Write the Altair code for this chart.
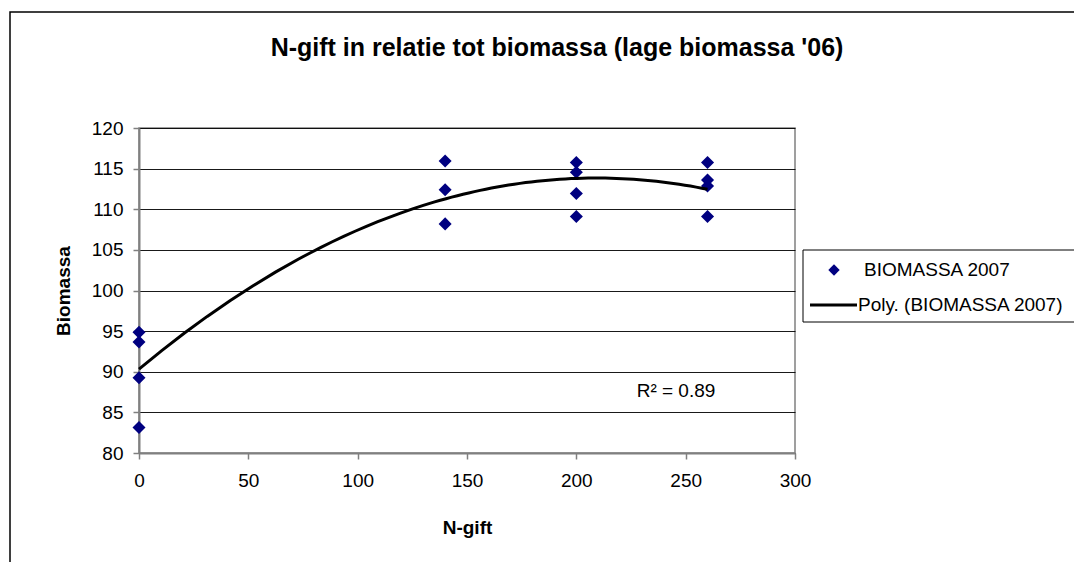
import altair as alt
import pandas as pd

# ---- data ----
n_gift = [0, 0, 0, 0, 140, 140, 140, 200, 200, 200, 200, 260, 260, 260, 260]
biomassa = [94.85, 93.65, 89.25, 83.15, 115.95, 112.4, 108.2,
            115.75, 114.55, 111.95, 109.1, 115.75, 113.6, 112.85, 109.1]
series_names = ["BIOMASSA 2007", "Poly. (BIOMASSA 2007)"]
x_ticks = [0, 50, 100, 150, 200, 250, 300]
y_ticks = [80, 85, 90, 95, 100, 105, 110, 115, 120]
title_text = "N-gift in relatie tot biomassa (lage biomassa '06)"
x_title = "N-gift"
y_title = "Biomassa"
r2_text = "R\u00b2 = 0.89"

FONT = "Liberation Sans"
W, H = 656, 325

df = pd.DataFrame({"x": n_gift, "y": biomassa})

xs = alt.Scale(domain=[0, 300], nice=False, zero=False)
ys = alt.Scale(domain=[80, 120], nice=False, zero=False)

x_axis = alt.Axis(values=x_ticks, title=x_title, grid=False, format="d",
                  labelFontSize=19, labelPadding=12, tickSize=6,
                  labelFlush=False, labelOverlap=False,
                  titleFontSize=19, titleFontWeight="bold",
                  titleX=W / 2, titleY=74, titleBaseline="middle")
y_axis = alt.Axis(values=y_ticks, title=y_title, grid=True, format="d",
                  labelFontSize=19, labelPadding=10, tickSize=6,
                  labelFlush=False, labelOverlap=False,
                  titleFontSize=19, titleFontWeight="bold",
                  titleX=-76, titleY=H / 2, titleBaseline="middle",
                  titleAngle=-90, titleAlign="center")

base = alt.Chart(df)

points = base.mark_point(shape="diamond", filled=True, size=170,
                         color="#000080", opacity=1).encode(
    x=alt.X("x:Q", scale=xs, axis=x_axis),
    y=alt.Y("y:Q", scale=ys, axis=y_axis),
)

trend = base.transform_regression(
    "x", "y", method="poly", order=2, extent=[0, 260]
).mark_line(color="black", strokeWidth=3).encode(
    x=alt.X("x:Q", scale=xs),
    y=alt.Y("y:Q", scale=ys),
)

one = alt.Chart(pd.DataFrame({"k": [0]}))

# outer chart border
border = one.mark_rect(fillOpacity=0, stroke="black", strokeWidth=1.5).encode(
    x=alt.value(-129), x2=alt.value(1000), y=alt.value(-116), y2=alt.value(600)
)

title = one.mark_text(font=FONT, fontSize=25, fontWeight="bold",
                      align="center", baseline="middle", color="black").encode(
    x=alt.value(418), y=alt.value(-80), text=alt.value(title_text)
)

r2 = one.mark_text(font=FONT, fontSize=19, align="center",
                   baseline="middle", color="black").encode(
    x=alt.value(537), y=alt.value(263), text=alt.value(r2_text)
)

# legend
leg_box = one.mark_rect(fill="white", stroke="black", strokeWidth=1).encode(
    x=alt.value(664), x2=alt.value(960), y=alt.value(122), y2=alt.value(194)
)
leg_sym = one.mark_point(shape="diamond", filled=True, size=130,
                         color="#000080", opacity=1).encode(
    x=alt.value(695), y=alt.value(142)
)
leg_line = one.mark_rule(color="black", strokeWidth=3).encode(
    x=alt.value(671), x2=alt.value(718), y=alt.value(177)
)
leg_t1 = one.mark_text(font=FONT, fontSize=19, align="left",
                       baseline="middle", color="black").encode(
    x=alt.value(725), y=alt.value(142), text=alt.value(series_names[0])
)
leg_t2 = one.mark_text(font=FONT, fontSize=19, align="left",
                       baseline="middle", color="black").encode(
    x=alt.value(719), y=alt.value(177), text=alt.value(series_names[1])
)

chart = alt.layer(
    border, title, points, trend, r2, leg_box, leg_sym, leg_line, leg_t1, leg_t2
).properties(
    width=W, height=H,
    autosize="none",
    padding={"left": 131, "top": 120, "right": 279, "bottom": 109},
    background="white",
).configure_view(
    stroke="#808080", strokeWidth=1.5
).configure_axis(
    labelFont=FONT, titleFont=FONT, labelColor="black", titleColor="black",
    domainColor="#808080", domainWidth=2, tickColor="#808080", tickWidth=1.5,
    gridColor="#000000", gridWidth=1, gridOpacity=0.9,
)

chart.save("out.html", embed_options={"renderer": "svg", "actions": False})
